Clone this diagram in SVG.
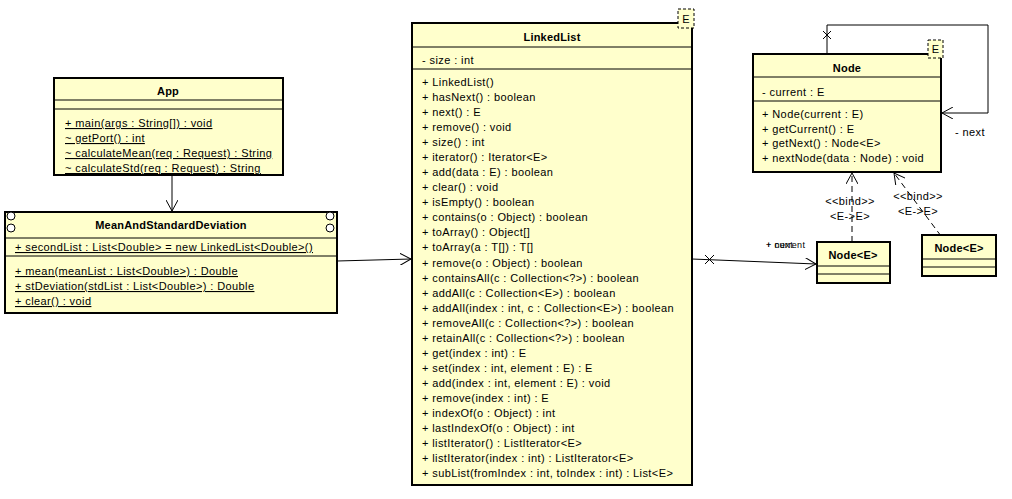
<svg xmlns="http://www.w3.org/2000/svg" width="1012" height="499" viewBox="0 0 1012 499">
<style>
.box{fill:#FFFFCC;stroke:#000;stroke-width:2}
.sep{stroke:#000;stroke-width:1}
text{font-family:"Liberation Sans",Arial,sans-serif;font-size:11px;fill:#000;letter-spacing:0.4px}
.t{font-weight:bold;text-anchor:middle;letter-spacing:0.2px}
.u{text-decoration:underline}
.c{text-anchor:middle}
.ln{fill:none;stroke:#000;stroke-width:1}
.dash{fill:none;stroke:#000;stroke-width:1;stroke-dasharray:6,4}
.tp{fill:#FFFFCC;stroke:#000;stroke-width:1;stroke-dasharray:3,2}
.sm{font-size:9px}
</style>
<defs>
<marker id="open" viewBox="0 0 12 12" refX="11" refY="6" markerWidth="12" markerHeight="12" markerUnits="userSpaceOnUse" orient="auto">
<path d="M0,0 L11,6 L0,12" fill="none" stroke="#000" stroke-width="1"/>
</marker>
</defs>

<g id="connectors">
<path class="ln" d="M172,175 L172,211" marker-end="url(#open)"/>
<path class="ln" d="M337,261 L411,259" marker-end="url(#open)"/>
<path class="ln" d="M692,259 L816,264" marker-end="url(#open)"/>
<path class="ln" d="M705,255 L714,264 M714,255 L705,264"/>
<path class="ln" d="M827,54 L827,25 L988,25 L988,113 L942,113" marker-end="url(#open)"/>
<path class="ln" d="M823,31 L831,39 M831,31 L823,39"/>
<path class="dash" d="M852,242 L852,173" marker-end="url(#open)"/>
<path class="dash" d="M941,236 L894,173" marker-end="url(#open)"/>
<text x="955" y="136">- next</text>
<text x="766" y="248" class="sm">+ current</text>
<text x="766" y="248" class="sm">+ next</text>
<text x="850" y="205" class="c">&lt;&lt;bind&gt;&gt;</text>
<text x="850" y="220" class="c">&lt;E-&gt;E&gt;</text>
<text x="918" y="200" class="c">&lt;&lt;bind&gt;&gt;</text>
<text x="918" y="215" class="c">&lt;E-&gt;E&gt;</text>
</g>

<g id="App">
<rect class="box" x="54" y="78" width="229" height="97"/>
<line class="sep" x1="54" y1="100" x2="283" y2="100"/>
<line class="sep" x1="54" y1="109" x2="283" y2="109"/>
<text x="168" y="95" class="t">App</text>
<text x="65" y="127" class="u">+ main(args : String[]) : void</text>
<text x="65" y="142" class="u">~ getPort() : int</text>
<text x="65" y="157" class="u">~ calculateMean(req : Request) : String</text>
<text x="65" y="172" class="u">~ calculateStd(req : Request) : String</text>
</g>

<g id="MeanAndStandardDeviation">
<rect class="box" x="5" y="212" width="332" height="101"/>
<circle cx="11" cy="216" r="4" fill="#fff" stroke="#000" stroke-width="1"/>
<circle cx="11" cy="228" r="4" fill="#fff" stroke="#000" stroke-width="1"/>
<circle cx="330" cy="216" r="4" fill="#fff" stroke="#000" stroke-width="1"/>
<circle cx="330" cy="228" r="4" fill="#fff" stroke="#000" stroke-width="1"/>
<line class="sep" x1="5" y1="238" x2="337" y2="238"/>
<line class="sep" x1="5" y1="256" x2="337" y2="256"/>
<text x="171" y="229" class="t">MeanAndStandardDeviation</text>
<text x="15" y="251" class="u">+ secondList : List&lt;Double&gt; = new LinkedList&lt;Double&gt;()</text>
<text x="15" y="275" class="u">+ mean(meanList : List&lt;Double&gt;) : Double</text>
<text x="15" y="290" class="u">+ stDeviation(stdList : List&lt;Double&gt;) : Double</text>
<text x="15" y="305" class="u">+ clear() : void</text>
</g>

<g id="LinkedList">
<rect class="box" x="412" y="23" width="280" height="462"/>
<line class="sep" x1="412" y1="47" x2="692" y2="47"/>
<line class="sep" x1="412" y1="69" x2="692" y2="69"/>
<rect class="tp" x="678" y="9" width="16" height="19"/>
<text x="686" y="23" class="c">E</text>
<text x="552" y="41" class="t">LinkedList</text>
<text x="422" y="64">- size : int</text>
<text x="422" y="86">+ LinkedList()</text>
<text x="422" y="101">+ hasNext() : boolean</text>
<text x="422" y="116">+ next() : E</text>
<text x="422" y="131">+ remove() : void</text>
<text x="422" y="146">+ size() : int</text>
<text x="422" y="161">+ iterator() : Iterator&lt;E&gt;</text>
<text x="422" y="176">+ add(data : E) : boolean</text>
<text x="422" y="191">+ clear() : void</text>
<text x="422" y="206">+ isEmpty() : boolean</text>
<text x="422" y="221">+ contains(o : Object) : boolean</text>
<text x="422" y="236">+ toArray() : Object[]</text>
<text x="422" y="251">+ toArray(a : T[]) : T[]</text>
<text x="422" y="267">+ remove(o : Object) : boolean</text>
<text x="422" y="282">+ containsAll(c : Collection&lt;?&gt;) : boolean</text>
<text x="422" y="297">+ addAll(c : Collection&lt;E&gt;) : boolean</text>
<text x="422" y="312">+ addAll(index : int, c : Collection&lt;E&gt;) : boolean</text>
<text x="422" y="327">+ removeAll(c : Collection&lt;?&gt;) : boolean</text>
<text x="422" y="342">+ retainAll(c : Collection&lt;?&gt;) : boolean</text>
<text x="422" y="357">+ get(index : int) : E</text>
<text x="422" y="372">+ set(index : int, element : E) : E</text>
<text x="422" y="387">+ add(index : int, element : E) : void</text>
<text x="422" y="402">+ remove(index : int) : E</text>
<text x="422" y="417">+ indexOf(o : Object) : int</text>
<text x="422" y="432">+ lastIndexOf(o : Object) : int</text>
<text x="422" y="447">+ listIterator() : ListIterator&lt;E&gt;</text>
<text x="422" y="462">+ listIterator(index : int) : ListIterator&lt;E&gt;</text>
<text x="422" y="477">+ subList(fromIndex : int, toIndex : int) : List&lt;E&gt;</text>
</g>

<g id="Node">
<rect class="box" x="753" y="54" width="188" height="118"/>
<line class="sep" x1="753" y1="77" x2="941" y2="77"/>
<line class="sep" x1="753" y1="101" x2="941" y2="101"/>
<rect class="tp" x="928" y="40" width="15" height="18"/>
<text x="935.5" y="53" class="c">E</text>
<text x="847" y="72" class="t">Node</text>
<text x="762" y="96">- current : E</text>
<text x="762" y="118">+ Node(current : E)</text>
<text x="762" y="133">+ getCurrent() : E</text>
<text x="762" y="147">+ getNext() : Node&lt;E&gt;</text>
<text x="762" y="162">+ nextNode(data : Node) : void</text>
</g>

<g id="NodeE1">
<rect class="box" x="817" y="242" width="73" height="41"/>
<line class="sep" x1="817" y1="266" x2="890" y2="266"/>
<line class="sep" x1="817" y1="274" x2="890" y2="274"/>
<text x="853" y="259" class="t">Node&lt;E&gt;</text>
</g>

<g id="NodeE2">
<rect class="box" x="922" y="235" width="74" height="41"/>
<line class="sep" x1="922" y1="259" x2="996" y2="259"/>
<line class="sep" x1="922" y1="267" x2="996" y2="267"/>
<text x="959" y="252" class="t">Node&lt;E&gt;</text>
</g>
</svg>
